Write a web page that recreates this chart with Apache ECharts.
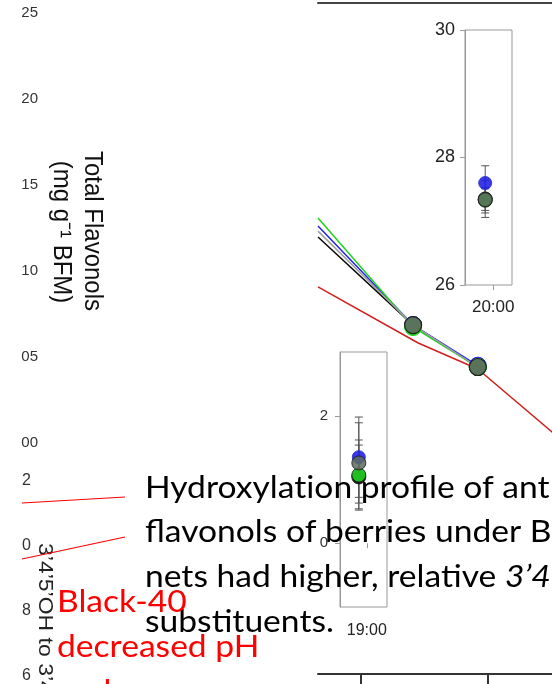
<!DOCTYPE html>
<html><head><meta charset="utf-8">
<script src="https://cdn.jsdelivr.net/npm/echarts@6/dist/echarts.min.js"></script>
<style>html,body{margin:0;padding:0;background:#fff}#c{width:552px;height:684px}</style>
</head><body><div id="c"></div>
<script>
// ---- data ----
const leftLabelsA = ['00', '05', '10', '15', '20', '25'];
const leftLabelsB = ['6', '8', '0', '2'];
const mainX = [0.66, 1.41, 1.92];
const greenY = [67.96, 51.7, 45.75];
const blueY = [66.77, 52.0, 45.95];
const grayY = [66.0, 52.0, 45.75];
const blackY = [65.13, 52.0, 45.75];
const redX = [0.66, 1.45, 1.92, 2.505, 2.8];
const redY = [57.68, 49.33, 45.45, 36.07, 31.2];
const mainTicks = [1, 2];
const inset1Labels = ['20:00'];
const inset2Labels = ['19:00'];
const insetGroups = ['Blue', 'Black', 'Green', 'Grey'];
const in1Means = [27.6, 27.35, 27.33, 27.34];
const in1Err = [0.27, 0.29, 0.2, 0.17];
const in2Means = [1.35, 1.04, 1.07, 1.26];
const in2Err = [0.63, 0.5, 0.55, 0.63];

const COL = {Blue: '#2424e6', Black: '#0a0a0a', Green: '#1fd21f', Grey: '#5e6b60'};
const LINECOL = {Blue: '#2424e6', Black: '#0a0a0a', Green: '#1fd21f', Grey: '#a0a0a0'};
const AX = '"Liberation Sans", Arial, sans-serif';
const SLIDE = 'Lato, "Open Sans", sans-serif';
const ZW = '\u200C';

const chart = echarts.init(document.getElementById('c'), null, {renderer: 'canvas'});

function zipXY(xs, ys) { return xs.map((x, i) => [x, ys[i]]); }

const mainLines = [['Black', blackY], ['Blue', blueY], ['Green', greenY], ['Grey', grayY]].map(([n, ys]) => ({
  type: 'line', name: n, xAxisIndex: 0, yAxisIndex: 0,
  data: zipXY(mainX, ys),
  symbol: 'circle',
  symbolSize: (v, p) => p.dataIndex === 0 ? 0 : 17,
  lineStyle: {color: LINECOL[n], width: 1.5},
  itemStyle: n === 'Grey' ? {color: COL[n], borderColor: '#1a1a1a', borderWidth: 1.2, opacity: 0.92}
                          : {color: COL[n], borderColor: COL[n], borderWidth: 1},
  emphasis: {disabled: true}
}));

function errSeries(xi, yi, xpos, means, errs) {
  return {
    type: 'custom', xAxisIndex: xi, yAxisIndex: yi, coordinateSystem: 'cartesian2d',
    data: means.map((m, i) => [xpos, m - errs[i], m + errs[i]]),
    encode: {x: 0, y: [1, 2]},
    renderItem: (params, api) => {
      const p1 = api.coord([api.value(0), api.value(1)]);
      const p2 = api.coord([api.value(0), api.value(2)]);
      const w = 4;
      const st = {stroke: '#555', lineWidth: 1};
      return {type: 'group', children: [
        {type: 'line', shape: {x1: p1[0], y1: p1[1], x2: p2[0], y2: p2[1]}, style: st},
        {type: 'line', shape: {x1: p1[0] - w, y1: p1[1], x2: p1[0] + w, y2: p1[1]}, style: st},
        {type: 'line', shape: {x1: p2[0] - w, y1: p2[1], x2: p2[0] + w, y2: p2[1]}, style: st}
      ]};
    }
  };
}
function dotSeries(xi, yi, xpos, means) {
  return insetGroups.map((g, i) => ({
    type: 'scatter', name: g, xAxisIndex: xi, yAxisIndex: yi,
    data: [[xpos, means[i]]],
    symbolSize: g === 'Blue' ? 13 : 14,
    itemStyle: {color: COL[g], opacity: g === 'Grey' ? 0.85 : 0.9,
      borderColor: g === 'Blue' ? '#3030d0' : '#1a1a1a', borderWidth: 1},
    emphasis: {disabled: true}
  }));
}

const insetXAxis = (gi, tickAt, labels, fs, margin) => ({
  type: 'value', gridIndex: gi, min: 0, max: 1,
  axisLine: {show: false}, splitLine: {show: false},
  axisTick: {show: true, length: 5, customValues: [tickAt], lineStyle: {color: '#999'}},
  axisLabel: {show: true, customValues: [tickAt], formatter: () => labels[0],
    fontFamily: AX, fontSize: fs, color: '#222', margin: margin}
});

const slideText = (x, y, text, color, z) => ({
  type: 'text', x: x, y: y, z: z, scaleX: 1.12,
  style: {text: text, font: '30px ' + SLIDE, fill: color, textVerticalAlign: 'middle'}
});

const option = {
  animation: false,
  grid: [
    {left: 318, top: 3, width: 234, height: 671},
    {left: 465, top: 30, width: 47, height: 255, show: true, borderColor: '#999', borderWidth: 1},
    {left: 340, top: 352, width: 47, height: 255, show: true, borderColor: '#999', borderWidth: 1},
    {left: 46, top: 12.5, width: 1, height: 430.5},
    {left: 39, top: 481, width: 1, height: 199}
  ],
  xAxis: [
    {type: 'value', gridIndex: 0, min: 0.66, max: 2.505, position: 'bottom',
      axisLine: {show: true, onZero: false, lineStyle: {color: '#333', width: 2}},
      axisTick: {show: true, customValues: mainTicks, length: 11, lineStyle: {color: '#333', width: 2}},
      axisLabel: {show: false}, splitLine: {show: false}},
    {type: 'value', gridIndex: 0, min: 0.66, max: 2.505, position: 'top',
      axisLine: {show: true, onZero: false, lineStyle: {color: '#444', width: 2}},
      axisTick: {show: false}, axisLabel: {show: false}, splitLine: {show: false}},
    insetXAxis(1, 0.6, inset1Labels, 17, 14),
    insetXAxis(2, 0.57, inset2Labels, 16, 16),
    {type: 'value', gridIndex: 3, show: false},
    {type: 'value', gridIndex: 4, show: false}
  ],
  yAxis: [
    {type: 'value', gridIndex: 0, min: 0, max: 100, show: false},
    {type: 'value', gridIndex: 1, min: 26, max: 30, interval: 2,
      axisLine: {show: true, lineStyle: {color: '#999'}},
      axisTick: {show: true, length: 5, lineStyle: {color: '#999'}},
      axisLabel: {fontFamily: AX, fontSize: 18, color: '#222', margin: 10},
      splitLine: {show: false}},
    {type: 'value', gridIndex: 2, min: -1, max: 3,
      axisLine: {show: true, lineStyle: {color: '#999'}},
      axisTick: {show: true, length: 5, customValues: [0, 2], lineStyle: {color: '#999'}},
      axisLabel: {customValues: [0, 2], fontFamily: AX, fontSize: 15, color: '#333', margin: 12},
      splitLine: {show: false}},
    {type: 'category', gridIndex: 3, data: leftLabelsA, boundaryGap: false,
      axisLine: {show: false}, axisTick: {show: false},
      axisLabel: {interval: 0, fontFamily: AX, fontSize: 15, color: '#333', margin: 8}},
    {type: 'category', gridIndex: 4, data: leftLabelsB, boundaryGap: false,
      axisLine: {show: false}, axisTick: {show: false},
      axisLabel: {interval: 0, fontFamily: AX, fontSize: 16, color: '#333', margin: 8}}
  ],
  series: [
    {type: 'line', name: 'Red', xAxisIndex: 0, yAxisIndex: 0, data: zipXY(redX, redY),
      symbol: 'none', lineStyle: {color: '#d0201c', width: 1.5}, emphasis: {disabled: true}},
    ...mainLines,
    errSeries(2, 1, 0.43, in1Means, in1Err),
    ...dotSeries(2, 1, 0.43, in1Means),
    errSeries(3, 2, 0.40, in2Means, in2Err),
    ...dotSeries(3, 2, 0.40, in2Means)
  ],
  graphic: [
    {type: 'text', x: 92, y: 231, rotation: -Math.PI / 2, scaleY: 1.1, z: 100,
      style: {text: 'Total Flavonols', font: '24px ' + AX, fill: '#111', textAlign: 'center', textVerticalAlign: 'middle'}},
    {type: 'text', x: 61, y: 232, rotation: -Math.PI / 2, scaleY: 1.1, z: 100,
      style: {text: '(mg g\u207B\u00B9 BFM)', font: '24px ' + AX, fill: '#111', textAlign: 'center', textVerticalAlign: 'middle'}},
    {type: 'text', x: 45, y: 543, rotation: -Math.PI / 2, scaleY: 0.87, z: 100,
      style: {text: '3\u20194\u20195\u2019OH to 3\u20194\u2019OH', font: '23px ' + AX, fill: '#222', textAlign: 'left', textVerticalAlign: 'middle'}},
    {type: 'line', z: 100, shape: {x1: 22, y1: 503, x2: 125, y2: 497}, style: {stroke: '#ff0000', lineWidth: 1.2}},
    {type: 'line', z: 100, shape: {x1: 22, y1: 559, x2: 125, y2: 537}, style: {stroke: '#ff0000', lineWidth: 1.2}},
    slideText(145, 488, 'Hydroxylat' + ZW + 'ion profile of anthocyanins and', '#000', 100),
    slideText(145, 532, 'flavonols of berries under Black-40', '#000', 100),
    {type: 'text', x: 145, y: 577, z: 100, scaleX: 1.12,
      style: {text: '{n|nets had higher, relative }{i|3\u20194\u20195\u2019}', font: '30px ' + SLIDE, fill: '#000', textVerticalAlign: 'middle',
        rich: {n: {font: '30px ' + SLIDE, fill: '#000'}, i: {font: 'italic 30px ' + SLIDE, fill: '#000'}}}},
    slideText(145, 622, 'substit' + ZW + 'uents.', '#000', 100),
    slideText(57, 602, 'Black-40', '#ff0000', 101),
    slideText(57, 647, 'decreased pH', '#ff0000', 101),
    slideText(57, 692, 'and', '#ff0000', 101)
  ]
};
chart.setOption(option);
</script></body></html>
